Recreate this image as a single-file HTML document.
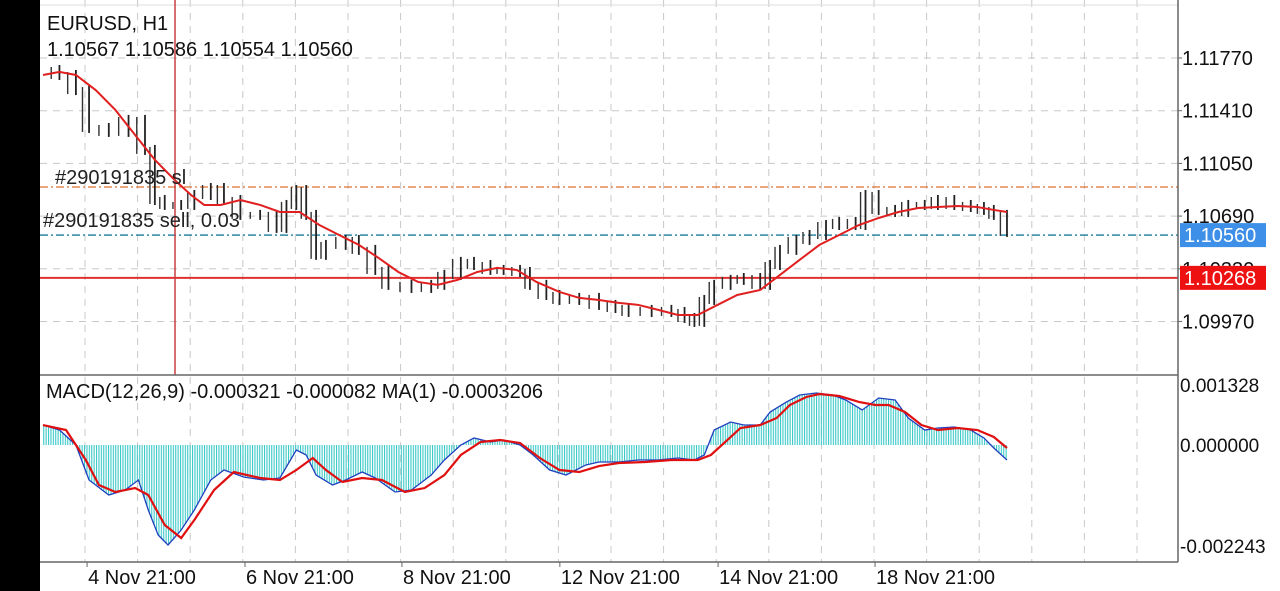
<!DOCTYPE html>
<html><head><meta charset="utf-8"><style>
body{margin:0;background:#fff;width:1280px;height:591px;overflow:hidden}
svg{display:block;font-family:"Liberation Sans",sans-serif}
</style></head><body>
<svg id="c" width="1280" height="591">
<defs><pattern id="hs" width="2.4" height="10" patternUnits="userSpaceOnUse"><rect width="1.1" height="10" fill="#3cc8c8"/></pattern></defs>
<rect x="0" y="0" width="40" height="591" fill="#000"/>
<g id="grid"></g>
<g id="main"></g>
<g id="macd"></g>
<g id="axes"></g>
</svg>
<script>
const priceTicks=[1.11770,1.11410,1.11050,1.10690,1.10330,1.09970];
const macdTicks=[0.001328,0.000000,-0.002243];
const timeLabels=["4 Nov 21:00","6 Nov 21:00","8 Nov 21:00","12 Nov 21:00","14 Nov 21:00","18 Nov 21:00"];
const timeLabelHours=[13.4,61.4,109.1,157.1,205.2,252.9];
const closeHours=[0,5,10,14,20,26,31,34,37,42,46,51,55,60,66,71,74,77,80,83,86,92,96,101,105,112,118,122,127,131,136,140,145,148,153,157,163,169,174,178,185,191,195,198,201,204,209,213,218,221,224,229,233,238,242,247,250,254,259,263,268,272,277,282,286,289,293];
const closes=[1.11688,1.11654,1.11551,1.11292,1.11265,1.11347,1.11142,1.10800,1.10766,1.10766,1.10834,1.10882,1.10800,1.10698,1.10698,1.10609,1.10766,1.10868,1.10698,1.10425,1.10493,1.10527,1.10459,1.10322,1.10220,1.10199,1.10220,1.10288,1.10377,1.10356,1.10322,1.10322,1.10308,1.10220,1.10151,1.10117,1.10131,1.10083,1.10062,1.10035,1.10049,1.10035,1.09994,1.09967,1.10117,1.10220,1.10254,1.10267,1.10220,1.10356,1.10459,1.10527,1.10561,1.10629,1.10650,1.10629,1.10834,1.10732,1.10718,1.10766,1.10766,1.10800,1.10766,1.10752,1.10732,1.10698,1.10582];
const maHours=[0,5,10,16,22,28,34,40,45,49,54,60,66,72,78,84,90,96,102,108,114,120,126,132,138,144,150,157,163,169,175,181,187,193,199,205,211,218,224,230,236,242,248,254,260,266,272,278,284,289,293];
const maValues=[1.11654,1.11675,1.11654,1.11551,1.11415,1.11244,1.11074,1.10937,1.10834,1.10766,1.10766,1.10800,1.10766,1.10718,1.10718,1.10629,1.10561,1.10493,1.10404,1.10308,1.10240,1.10220,1.10254,1.10308,1.10336,1.10322,1.10240,1.10172,1.10131,1.10117,1.10097,1.10083,1.10049,1.10014,1.10014,1.10083,1.10151,1.10185,1.10288,1.10391,1.10493,1.10561,1.10629,1.10677,1.10718,1.10745,1.10752,1.10759,1.10752,1.10732,1.10718];
const macdHours=[0,5,10,14,20,25,29,32,35,38,42,46,51,55,61,67,72,77,80,83,88,92,97,101,107,112,118,122,127,131,136,140,145,149,154,159,165,169,175,181,187,193,198,201,204,209,213,218,221,226,230,235,240,244,249,254,259,263,268,272,277,282,286,289,293];
const macdMain=[0.000444,0.000333,0,-0.000778,-0.001111,-0.001,-0.000778,-0.001444,-0.002,-0.002222,-0.001889,-0.001444,-0.000778,-0.000556,-0.000711,-0.000778,-0.000733,-0.000111,-0.000222,-0.000667,-0.000889,-0.000778,-0.0006,-0.000733,-0.001044,-0.001,-0.000667,-0.000333,0,0.000156,0.000067,0.000111,0,-0.000222,-0.000556,-0.000667,-0.000444,-0.000378,-0.000378,-0.000333,-0.000333,-0.000289,-0.000333,-0.000222,0.000333,0.000511,0.000444,0.000444,0.000733,0.000956,0.001111,0.001156,0.001111,0.001,0.000778,0.001044,0.001,0.0006,0.000333,0.000378,0.0004,0.000333,0.000156,-0.000067,-0.000333];
const sigHours=[0,7,13,17,22,28,32,37,42,46,52,58,66,72,77,82,86,91,97,103,110,116,122,127,133,139,145,151,157,163,169,175,183,191,199,203,208,212,218,223,227,232,236,242,248,253,257,262,267,272,278,284,289,293];
const macdSignal=[0.000444,0.000333,-0.000333,-0.000889,-0.001044,-0.000956,-0.001111,-0.001778,-0.002067,-0.001667,-0.001,-0.000600,-0.000733,-0.000778,-0.000556,-0.000289,-0.000556,-0.000822,-0.000733,-0.000778,-0.001044,-0.000956,-0.000667,-0.000222,0.000067,0.000111,0.000044,-0.000289,-0.000556,-0.000600,-0.000467,-0.000400,-0.000378,-0.000333,-0.000333,-0.000222,0.000111,0.000378,0.000444,0.000600,0.000889,0.001067,0.001133,0.001089,0.000956,0.000889,0.000889,0.000733,0.000444,0.000333,0.000378,0.000333,0.000178,-0.000067];

const NS="http://www.w3.org/2000/svg";
const xOf=h=>43+h*3.29;
const pY=p=>58+(1.11770-p)*14637;
const mY=v=>445-v*45000;
function mk(parent,tag,attrs,txt){const e=document.createElementNS(NS,tag);for(const k in attrs)e.setAttribute(k,attrs[k]);if(txt!==undefined)e.textContent=txt;document.getElementById(parent).appendChild(e);return e;}

for(let k=0;k<21;k++){const x=85+k*52.6;if(x>1176)break;
 const g=mk('grid','line',{x1:x,y1:0,x2:x,y2:562,stroke:'#c8c8c8','stroke-dasharray':'7,6','stroke-width':1});
 
 }
priceTicks.forEach(p=>{const g=mk('grid','line',{x1:40,y1:pY(p),x2:1178,y2:pY(p),stroke:'#c8c8c8','stroke-dasharray':'7,6'});
 
 });
mk('grid','line',{x1:40,y1:5,x2:1178,y2:5,stroke:'#ddd'});

mk('main','line',{x1:40,y1:187,x2:1178,y2:187,stroke:'#e07030','stroke-dasharray':'8,3,2,3','stroke-width':1.2});
mk('main','line',{x1:40,y1:pY(1.10560),x2:1178,y2:pY(1.10560),stroke:'#4a98b0','stroke-dasharray':'8,3,2,3','stroke-width':1.8});
mk('main','line',{x1:40,y1:pY(1.10268),x2:1178,y2:pY(1.10268),stroke:'#e03030','stroke-width':2});

for(let i=1;i<closes.length;i++){
 const x=xOf(closeHours[i]);const a=pY(closes[i-1]),b=pY(closes[i]);
 const l=mk('main','line',{x1:x,y1:Math.min(a,b)-5,x2:x,y2:Math.max(a,b)+5,stroke:'#222','stroke-width':1.8});
 
 
 const xm=(xOf(closeHours[i-1])+x)/2;
 const l2=mk('main','line',{x1:xm,y1:Math.min(a,b)-3,x2:xm,y2:Math.max(a,b)+4,stroke:'#333','stroke-width':1.4});
 
 
}
mk('main','polyline',{points:maHours.map((h,i)=>xOf(h)+','+pY(maValues[i])).join(' '),fill:'none',stroke:'#e02020','stroke-width':2});

mk('main','line',{x1:175,y1:0,x2:175,y2:375,stroke:'#c84040','stroke-width':1.5});

mk('main','text',{x:47,y:30,'font-size':20,fill:'#111'},'EURUSD, H1');
mk('main','text',{x:47,y:56,'font-size':20,fill:'#111'},'1.10567 1.10586 1.10554 1.10560');
mk('main','text',{x:55,y:184,'font-size':20,fill:'#222'},'#290191835 sl');
mk('main','text',{x:43,y:227,'font-size':20,fill:'#222'},'#290191835 sell, 0.03');

const hist=macdHours.map((h,i)=>xOf(h)+','+mY(macdMain[i])).join(' ');
mk('macd','polygon',{points:xOf(macdHours[0])+','+mY(0)+' '+hist+' '+xOf(macdHours[macdHours.length-1])+','+mY(0),fill:'url(#hs)'});
mk('macd','polyline',{points:hist,fill:'none',stroke:'#2040c0','stroke-width':1.3});
mk('macd','polyline',{points:sigHours.map((h,i)=>xOf(h)+','+mY(macdSignal[i])).join(' '),fill:'none',stroke:'#e01010','stroke-width':2.2});
mk('macd','text',{x:46,y:398,'font-size':20,fill:'#111'},'MACD(12,26,9) -0.000321 -0.000082 MA(1) -0.0003206');

mk('axes','line',{x1:40,y1:375,x2:1178,y2:375,stroke:'#666','stroke-width':1.5});
mk('axes','line',{x1:40,y1:562,x2:1178,y2:562,stroke:'#666','stroke-width':1.5});
mk('axes','line',{x1:1178,y1:0,x2:1178,y2:562,stroke:'#666','stroke-width':1.5});
priceTicks.forEach(p=>{mk('axes','line',{x1:1178,y1:pY(p),x2:1182,y2:pY(p),stroke:'#666'});
 const t=mk('axes','text',{x:1182,y:pY(p)+7,'font-size':20,fill:'#111'},p.toFixed(5));
 
 });
macdTicks.forEach(v=>{const t=mk('axes','text',{x:1180,y:mY(v)+7,'font-size':19,fill:'#111'},v.toFixed(6));
 
 });
timeLabels.forEach((s,i)=>{const x=xOf(timeLabelHours[i]);mk('axes','line',{x1:x,y1:562,x2:x,y2:567,stroke:'#666'});
 const t=mk('axes','text',{x:x+1,y:584,'font-size':20,fill:'#111'},s);
 
 });
mk('axes','rect',{x:1180,y:pY(1.10560)-12,width:86,height:24,fill:'#3d8fe8'});
mk('axes','text',{x:1184,y:pY(1.10560)+7,'font-size':20,fill:'#fff'},'1.10560');
mk('axes','rect',{x:1180,y:pY(1.10268)-12,width:86,height:24,fill:'#ee1111'});
mk('axes','text',{x:1184,y:pY(1.10268)+7,'font-size':20,fill:'#fff'},'1.10268');
</script>
</body></html>
